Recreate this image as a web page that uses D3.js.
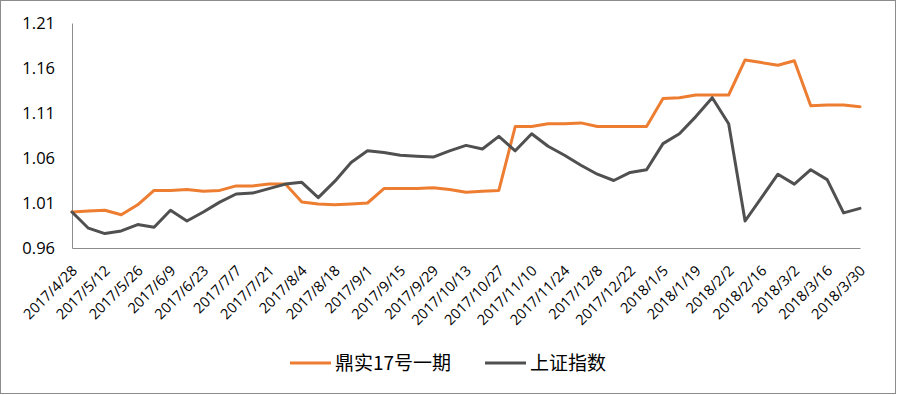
<!DOCTYPE html>
<html>
<head>
<meta charset="utf-8">
<script src="https://cdn.jsdelivr.net/npm/d3@7"></script>
<style>
  html, body { margin: 0; padding: 0; background: #fff; }
  svg { display: block; }
</style>
</head>
<body>
<svg id="chart"></svg>
<script>
// weekly dates, every other one is labelled on the axis
const dates = [
  '2017/4/28', '2017/5/5', '2017/5/12', '2017/5/19', '2017/5/26', '2017/6/2', '2017/6/9',
  '2017/6/16', '2017/6/23', '2017/6/30', '2017/7/7', '2017/7/14', '2017/7/21', '2017/7/28',
  '2017/8/4', '2017/8/11', '2017/8/18', '2017/8/25', '2017/9/1', '2017/9/8', '2017/9/15',
  '2017/9/22', '2017/9/29', '2017/10/6', '2017/10/13', '2017/10/20', '2017/10/27', '2017/11/3',
  '2017/11/10', '2017/11/17', '2017/11/24', '2017/12/1', '2017/12/8', '2017/12/15', '2017/12/22',
  '2017/12/29', '2018/1/5', '2018/1/12', '2018/1/19', '2018/1/26', '2018/2/2', '2018/2/9',
  '2018/2/16', '2018/2/23', '2018/3/2', '2018/3/9', '2018/3/16', '2018/3/23', '2018/3/30'
]

const dingshi = [
  1.000, 1.001, 1.002, 0.997, 1.008, 1.024, 1.024, 1.025, 1.023, 1.024,
  1.029, 1.029, 1.031, 1.031, 1.011, 1.009, 1.008, 1.009, 1.010, 1.026,
  1.026, 1.026, 1.027, 1.025, 1.022, 1.023, 1.024, 1.095, 1.095, 1.098,
  1.098, 1.099, 1.095, 1.095, 1.095, 1.095, 1.126, 1.127, 1.130, 1.130,
  1.130, 1.169, 1.166, 1.163, 1.168, 1.118, 1.119, 1.119, 1.117
]

const shIndex = [
  1.000, 0.982, 0.976, 0.979, 0.986, 0.983, 1.002, 0.990, 1.000, 1.011,
  1.020, 1.021, 1.026, 1.031, 1.033, 1.016, 1.034, 1.055, 1.068, 1.066,
  1.063, 1.062, 1.061, 1.068, 1.074, 1.070, 1.084, 1.068, 1.087, 1.073,
  1.063, 1.052, 1.042, 1.035, 1.044, 1.047, 1.076, 1.087, 1.106, 1.127,
  1.098, 0.990, 1.016, 1.042, 1.031, 1.047, 1.036, 0.999, 1.004
]

const yTicks = [0.96, 1.01, 1.06, 1.11, 1.16, 1.21]

const seriesNames = ['鼎实17号一期', '上证指数']
const colors = ['#ED7D31', '#505050']

const svgWidth = 897
const svgHeight = 395
const margin = { top: 23, right: 37, bottom: 147, left: 72 }

const svg = d3.select('#chart')
  .attr('width', svgWidth)
  .attr('height', svgHeight)

// outer chart border
svg.append('rect')
  .attr('x', 0.5)
  .attr('y', 0.5)
  .attr('width', svgWidth - 2)
  .attr('height', svgHeight - 2)
  .attr('fill', '#fff')
  .attr('stroke', '#8c8c8c')

const x = d3.scalePoint()
  .domain(dates)
  .range([margin.left, svgWidth - margin.right])

const y = d3.scaleLinear()
  .domain([0.96, 1.21])
  .range([svgHeight - margin.bottom, margin.top])

// Append Yaxis
const yAxis = d3.axisLeft(y)
  .tickValues(yTicks)
  .tickFormat(d3.format('.2f'))
  .tickSize(0)
  .tickPadding(17)

const gy = svg.append('g')
  .attr('transform', `translate(${margin.left}, 0)`)
  .call(yAxis)
gy.select('.domain').attr('stroke', '#8c8c8c')
gy.selectAll('text')
  .attr('fill', '#000')
  .style('font-family', '"Open Sans", sans-serif')
  .style('font-size', '16.5px')

// Append Xaxis
const xAxis = d3.axisBottom(x)
  .tickValues(dates.filter((d, i) => i % 2 === 0))
  .tickSize(0)

const gx = svg.append('g')
  .attr('transform', `translate(0, ${y(0.96)})`)
  .call(xAxis)
gx.select('.domain').attr('stroke', '#8c8c8c')
gx.selectAll('text')
  .attr('fill', '#000')
  .attr('text-anchor', 'end')
  .attr('x', 0)
  .attr('y', 0)
  .attr('dy', '0.35em')
  .attr('transform', 'translate(2, 20) rotate(-45)')
  .style('font-family', '"Open Sans", sans-serif')
  .style('font-size', '14.5px')

const line = d3.line()
  .x((d, i) => x(dates[i]))
  .y(d => y(d))

const allSeries = [dingshi, shIndex]
allSeries.forEach((values, i) => {
  svg.append('path')
    .datum(values)
    .attr('fill', 'none')
    .attr('stroke', colors[i])
    .attr('stroke-width', 3)
    .attr('stroke-linejoin', 'round')
    .attr('stroke-linecap', 'round')
    .attr('d', line)
})

// legend
const legendX = [290, 485]
const legendY = 363
const legend = svg.append('g')
seriesNames.forEach((name, i) => {
  legend.append('line')
    .attr('x1', legendX[i])
    .attr('x2', legendX[i] + 41)
    .attr('y1', legendY)
    .attr('y2', legendY)
    .attr('stroke', colors[i])
    .attr('stroke-width', 3)
  legend.append('text')
    .attr('x', legendX[i] + 45)
    .attr('y', legendY)
    .attr('dy', '0.36em')
    .attr('fill', '#000')
    .style('font-family', '"Noto Sans CJK SC", sans-serif')
    .style('font-size', '19px')
    .text(name)
})
</script>
</body>
</html>
